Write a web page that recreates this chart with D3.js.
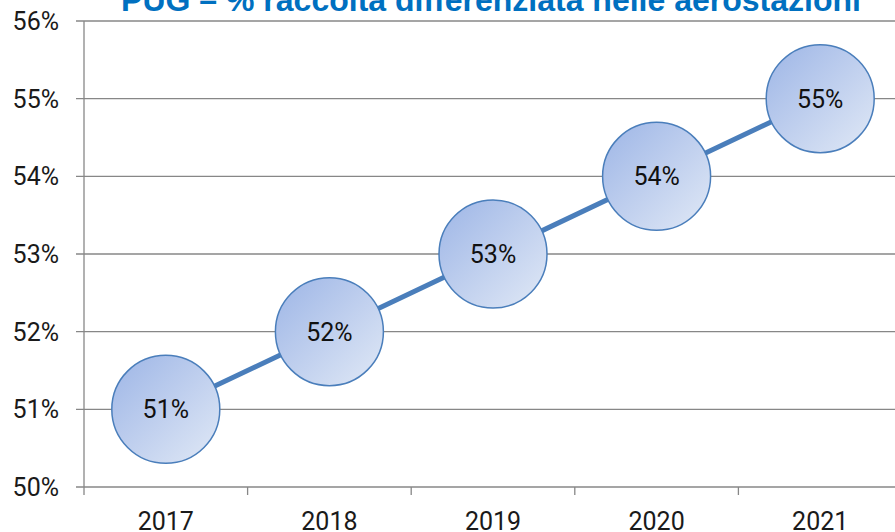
<!DOCTYPE html>
<html>
<head>
<meta charset="utf-8">
<script src="https://cdn.jsdelivr.net/npm/d3@7"></script>
<style>
  body { margin: 0; background: #fff; }
  svg { display: block; }
</style>
</head>
<body>
<script>
// dati
const anni = ["2017", "2018", "2019", "2020", "2021"];
const valori = [51, 52, 53, 54, 55];
const tickY = [50, 51, 52, 53, 54, 55, 56];
const titolo = "PUG \u2013 % raccolta differenziata nelle aerostazioni";

const largeur = 895, hauteur = 532;
const gauche = 84, droite = 902, haut = 21, bas = 487;
const police = "Roboto, 'Liberation Sans', Arial, sans-serif";

const svg = d3.select("body").append("svg")
  .attr("width", largeur)
  .attr("height", hauteur);

const defs = svg.append("defs");
const grad = defs.append("linearGradient")
  .attr("id", "bolla")
  .attr("x1", "0%").attr("y1", "0%")
  .attr("x2", "100%").attr("y2", "100%");
grad.append("stop").attr("offset", "0%").attr("stop-color", "#9db5e6");
grad.append("stop").attr("offset", "100%").attr("stop-color", "#e1e9f6");

const x = d3.scaleBand().domain(anni).range([gauche, droite]);
const y = d3.scaleLinear().domain([50, 56]).range([bas, haut]);

// griglia
svg.append("g")
  .selectAll("line")
  .data(tickY)
  .join("line")
  .attr("x1", gauche - 8)
  .attr("x2", largeur)
  .attr("y1", d => y(d))
  .attr("y2", d => y(d))
  .attr("stroke", "#878787")
  .attr("stroke-width", 1.3);

// asse y
svg.append("line")
  .attr("x1", gauche).attr("x2", gauche)
  .attr("y1", haut).attr("y2", bas + 8)
  .attr("stroke", "#878787")
  .attr("stroke-width", 1.3);

// tacche asse x
svg.append("g")
  .selectAll("line")
  .data(anni)
  .join("line")
  .attr("x1", d => x(d) + x.bandwidth())
  .attr("x2", d => x(d) + x.bandwidth())
  .attr("y1", bas)
  .attr("y2", bas + 8)
  .attr("stroke", "#878787")
  .attr("stroke-width", 1.3);

// etichette y
svg.append("g")
  .selectAll("text")
  .data(tickY)
  .join("text")
  .attr("x", 59)
  .attr("y", d => y(d) + 9)
  .attr("text-anchor", "end")
  .style("font-family", police)
  .style("font-size", "25px")
  .attr("fill", "#1a1a1a")
  .text(d => d + "%");

// etichette x
svg.append("g")
  .selectAll("text")
  .data(anni)
  .join("text")
  .attr("x", d => x(d) + x.bandwidth() / 2)
  .attr("y", 530)
  .attr("text-anchor", "middle")
  .style("font-family", police)
  .style("font-size", "25px")
  .attr("fill", "#1a1a1a")
  .text(d => d);

// linea
const dati = anni.map((a, i) => ({ anno: a, v: valori[i] }));
const linea = d3.line()
  .x(d => x(d.anno) + x.bandwidth() / 2)
  .y(d => y(d.v));

svg.append("path")
  .datum(dati)
  .attr("d", linea)
  .attr("fill", "none")
  .attr("stroke", "#4a7ebb")
  .attr("stroke-width", 5);

// bolle
const bolle = svg.append("g")
  .selectAll("g")
  .data(dati)
  .join("g")
  .attr("transform", d => `translate(${x(d.anno) + x.bandwidth() / 2},${y(d.v)})`);

bolle.append("circle")
  .attr("r", 54)
  .attr("fill", "url(#bolla)")
  .attr("stroke", "#4a7ebb")
  .attr("stroke-width", 1.5);

bolle.append("text")
  .attr("y", 9)
  .attr("text-anchor", "middle")
  .style("font-family", police)
  .style("font-size", "25px")
  .attr("fill", "#111")
  .text(d => d.v + "%");

// titolo (tagliato in alto)
svg.append("text")
  .attr("x", 491)
  .attr("y", 11)
  .attr("text-anchor", "middle")
  .style("font-family", "'Liberation Sans', Arial, sans-serif")
  .style("font-weight", "bold")
  .style("font-size", "32px")
  .attr("fill", "#0070c0")
  .text(titolo);
</script>
</body>
</html>
